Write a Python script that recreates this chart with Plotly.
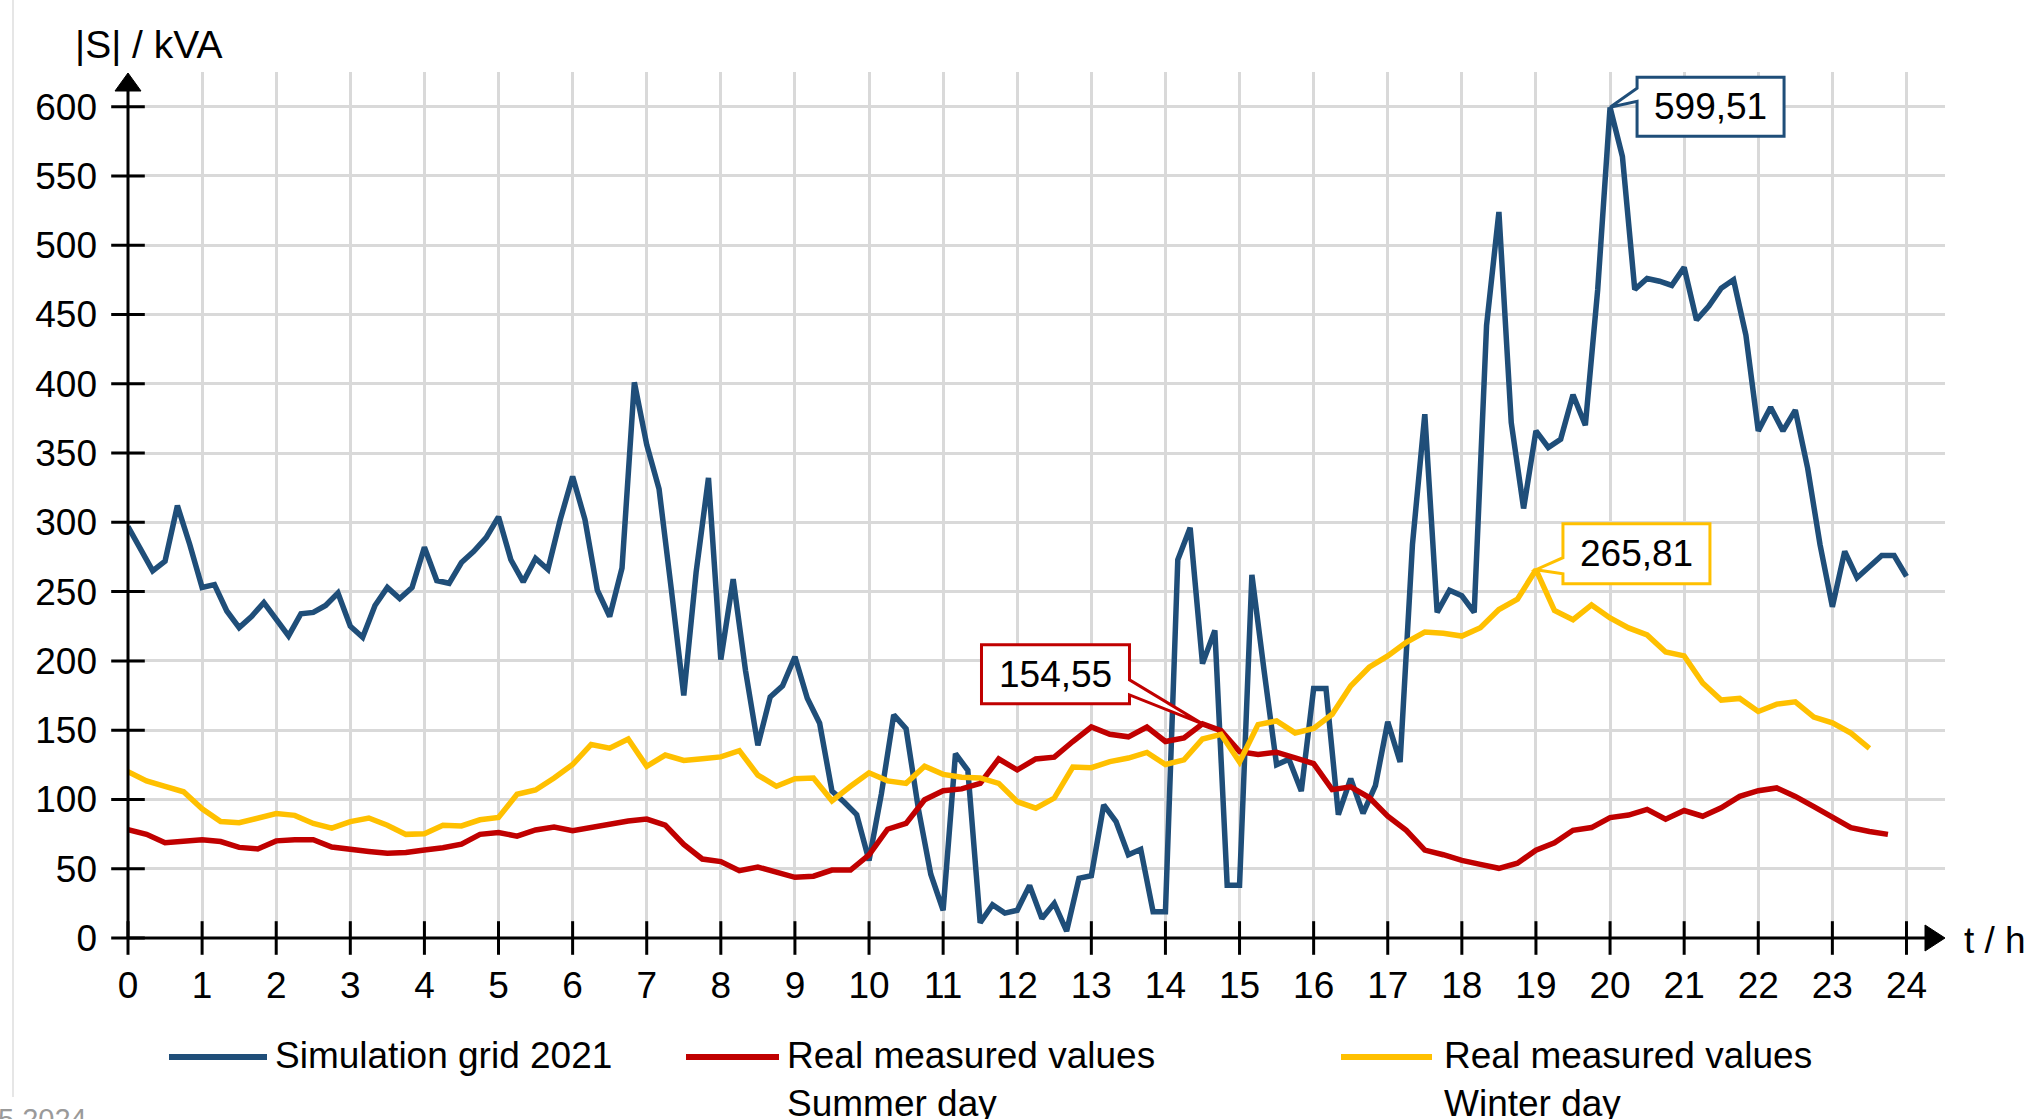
import plotly.graph_objects as go

# ---------------------------------------------------------------------------
# Apparent power |S| in kVA
# ---------------------------------------------------------------------------
# Simulation grid 2021, 10-minute resolution, 0:00 ... 24:00
sim_values = [
    297, 281, 265, 272, 312, 284,
    253, 255, 236, 224, 232, 242,
    230, 218, 234, 235, 240, 249,
    225, 217, 240, 253, 245, 253,
    282, 258, 256, 271, 279, 289,
    304, 273, 257, 274, 266, 302,
    333, 302, 251, 232, 267, 401,
    356, 324, 251, 175, 264, 332,
    201, 259, 193, 139, 174, 182,
    203, 173, 155, 106, 98, 89,
    56, 104, 161, 151, 93, 46,
    20, 133, 121, 11, 24, 18,
    20, 38, 14, 25, 5, 43,
    45, 96, 84, 60, 64, 19,
    19, 273, 296, 198, 222, 38,
    38, 262, 192, 125, 129, 106,
    180, 180, 89, 115, 90, 110,
    156, 127, 284, 378, 235, 251,
    247, 235, 442, 524, 372, 310,
    366, 354, 360, 392, 370, 468,
    599.51, 564, 468, 476, 474, 471,
    484, 446, 456, 469, 475, 435,
    366, 383, 366, 381, 339, 284,
    239, 279, 260, 268, 276, 276,
    261,
]

# Real measured values, summer day, 15-minute resolution, 0:00 ... 23:45
summer_values = [
    78.2, 74.8, 68.8, 69.6,
    70.9, 69.6, 65.4, 64.3,
    70.1, 70.9, 70.9, 65.6,
    63.8, 62.5, 61.2, 61.7,
    63.5, 65.1, 67.7, 74.8,
    76.1, 73.5, 78.0, 80.0,
    77.4, 80.0, 82.2, 84.5,
    85.8, 81.4, 67.5, 57.0,
    55.1, 48.6, 51.2, 47.3,
    43.8, 44.6, 49.0, 49.0,
    60.0, 78.5, 82.7, 99.8,
    106.3, 107.6, 111.6, 129.2,
    121.3, 129.2, 130.5, 141.8,
    152.3, 147.0, 145.2, 152.3,
    141.8, 144.4, 154.55, 149.6,
    134.5, 132.5, 134.1, 130.0,
    125.9, 107.1, 109.1, 101.4,
    87.9, 77.7, 63.4, 60.1,
    56.0, 53.1, 50.3, 54.0,
    63.4, 68.7, 77.7, 79.7,
    86.9, 88.7, 92.8, 85.8,
    92.0, 87.9, 94.0, 102.2,
    106.3, 108.3, 102.2, 94.8,
    86.7, 79.7, 76.9, 74.8,
]

# Real measured values, winter day, 15-minute resolution, 0:00 ... 23:30
winter_values = [
    120.0, 113.4, 109.5, 105.5,
    93.2, 84.0, 83.2, 86.0,
    89.8, 88.5, 82.7, 79.3,
    84.0, 86.6, 81.4, 74.8,
    75.3, 81.4, 80.9, 85.3,
    87.0, 103.7, 106.8, 115.5,
    125.2, 139.7, 137.0, 143.6,
    123.9, 132.0, 128.1, 129.4,
    130.7, 135.2, 117.6, 109.5,
    115.0, 115.5, 99.0, 109.5,
    119.2, 113.4, 111.6, 123.9,
    118.1, 116.0, 115.5, 111.6,
    98.4, 93.7, 101.0, 123.4,
    122.9, 127.3, 129.9, 133.9,
    125.2, 128.6, 143.6, 147.0,
    127.0, 154.0, 156.6, 148.0,
    151.3, 161.5, 181.9, 195.4,
    203.6, 213.4, 220.8, 219.9,
    217.9, 224.0, 237.1, 244.5,
    265.81, 236.3, 229.7, 240.4,
    231.0, 223.8, 218.7, 206.4,
    203.6, 184.0, 171.7, 172.9,
    163.5, 168.8, 170.4, 159.4,
    155.3, 147.9, 136.9,
]

series_names = ["Simulation grid 2021",
                "Real measured values<br>Summer day",
                "Real measured values<br>Winter day"]
hour_ticks = list(range(0, 25))
kva_ticks = list(range(0, 601, 50))

# time stamps in hours
sim_t = [i / 6 for i in range(len(sim_values))]
summer_t = [i / 4 for i in range(len(summer_values))]
winter_t = [i / 4 for i in range(len(winter_values))]

# ---------------------------------------------------------------------------
# Styling
# ---------------------------------------------------------------------------
BLUE = "#1f4e79"
RED = "#c00000"
YELLOW = "#ffc000"
GRID = "#d9d9d9"
FONT = "Liberation Sans, Arial, sans-serif"
FS = 37
LW = 5.5

W, H = 2041, 1119
ML, MR, MT, MB = 128, 96, 72, 181
PW, PH = W - ML - MR, H - MT - MB
X_END = 24.52
Y_END = 625


def px_x(px):
    """page pixel -> paper x"""
    return (px - ML) / PW


def px_y(py):
    """page pixel -> paper y"""
    return (H - MB - py) / PH


fig = go.Figure()

fig.add_trace(go.Scatter(x=sim_t, y=sim_values, mode="lines",
                         line=dict(color=BLUE, width=LW), name=series_names[0],
                         showlegend=False))
fig.add_trace(go.Scatter(x=summer_t, y=summer_values, mode="lines",
                         line=dict(color=RED, width=LW), name=series_names[1],
                         showlegend=False))
fig.add_trace(go.Scatter(x=winter_t, y=winter_values, mode="lines",
                         line=dict(color=YELLOW, width=LW), name=series_names[2],
                         showlegend=False))

# tick marks crossing the axes
fig.add_trace(go.Scatter(x=[0] * len(kva_ticks), y=kva_ticks, mode="markers",
                         marker=dict(symbol="line-ew", size=24,
                                     line=dict(color="black", width=3)),
                         cliponaxis=False, hoverinfo="skip", showlegend=False))
fig.add_trace(go.Scatter(x=hour_ticks, y=[0] * len(hour_ticks), mode="markers",
                         marker=dict(symbol="line-ns", size=24,
                                     line=dict(color="black", width=3)),
                         cliponaxis=False, hoverinfo="skip", showlegend=False))

shapes = []
annotations = []

# axis lines with arrow heads (paper-referenced so they are not clipped)
shapes.append(dict(type="line", xref="paper", yref="paper", x0=0, y0=0, x1=0, y1=0.985,
                   line=dict(color="black", width=3), layer="above"))
shapes.append(dict(type="line", xref="paper", yref="paper", x0=0, y0=0, x1=0.992, y1=0,
                   line=dict(color="black", width=3), layer="above"))
shapes.append(dict(type="path", xref="paper", yref="paper", xsizemode="pixel",
                   ysizemode="pixel", xanchor=0, yanchor=1,
                   path="M0,-1 L-13,-19 L13,-19 Z",
                   fillcolor="black", line=dict(color="black", width=1), layer="above"))
shapes.append(dict(type="path", xref="paper", yref="paper", xsizemode="pixel",
                   ysizemode="pixel", xanchor=1, yanchor=0,
                   path="M0,0 L-20,13 L-20,-13 Z",
                   fillcolor="black", line=dict(color="black", width=1), layer="above"))


def fmt(v):
    return f"{v:.2f}".replace(".", ",")


def callout(t, v, color, left, right, top, bottom, wedge_a, wedge_b, side):
    """Boxed value label with a wedge pointing at (t, v); offsets in pixels."""
    if side == "right":
        path = (f"M0,0 L{left},{wedge_b} L{left},{bottom} L{right},{bottom} "
                f"L{right},{top} L{left},{top} L{left},{wedge_a} Z")
    else:
        path = (f"M0,0 L{right},{wedge_b} L{right},{bottom} L{left},{bottom} "
                f"L{left},{top} L{right},{top} L{right},{wedge_a} Z")
    shapes.append(dict(type="path", xref="x", yref="y", xsizemode="pixel",
                       ysizemode="pixel", xanchor=t, yanchor=v, path=path,
                       fillcolor="white", line=dict(color=color, width=3),
                       layer="above"))
    annotations.append(dict(x=t, y=v, xref="x", yref="y", text=fmt(v),
                            showarrow=False, xanchor="center", yanchor="middle",
                            xshift=(left + right) / 2, yshift=(top + bottom) / 2,
                            font=dict(family=FONT, size=FS, color="black")))


i_sim = max(range(len(sim_values)), key=lambda i: sim_values[i])
i_sum = max(range(len(summer_values)), key=lambda i: summer_values[i])
i_win = max(range(len(winter_values)), key=lambda i: winter_values[i])

callout(sim_t[i_sim], sim_values[i_sim], BLUE, 27, 174, 30, -29, 19, 6, "right")
callout(winter_t[i_win], winter_values[i_win], YELLOW, 27, 174, 46, -14, 12, -4, "right")
callout(summer_t[i_sum], summer_values[i_sum], RED, -221, -73, 79, 20, 44, 29, "left")

# axis titles
annotations.append(dict(x=px_x(73), y=px_y(21), xref="paper", yref="paper",
                        text="|S| / kVA", showarrow=False, xanchor="left",
                        yanchor="top", font=dict(family=FONT, size=39, color="black")))
annotations.append(dict(x=px_x(1962), y=px_y(918), xref="paper", yref="paper",
                        text="t / h", showarrow=False, xanchor="left",
                        yanchor="top", font=dict(family=FONT, size=FS, color="black")))

# legend
legend_items = [(series_names[0], BLUE, 169, 267, 273),
                (series_names[1], RED, 686, 779, 785),
                (series_names[2], YELLOW, 1341, 1432, 1442)]
for name, color, x0, x1, xt in legend_items:
    shapes.append(dict(type="line", xref="paper", yref="paper",
                       x0=px_x(x0), x1=px_x(x1), y0=px_y(1057), y1=px_y(1057),
                       line=dict(color=color, width=6)))
    annotations.append(dict(x=px_x(xt), y=px_y(1033), xref="paper", yref="paper",
                            text=name, showarrow=False, xanchor="left", yanchor="top",
                            align="left",
                            font=dict(family=FONT, size=FS, color="black")))

# page border line and footer
shapes.append(dict(type="line", xref="paper", yref="paper",
                   x0=px_x(13), x1=px_x(13), y0=px_y(0), y1=px_y(1097),
                   line=dict(color="#e6e6e6", width=2)))
annotations.append(dict(x=px_x(-4), y=px_y(1101), xref="paper", yref="paper",
                        text="5 2024", showarrow=False, xanchor="left", yanchor="top",
                        font=dict(family=FONT, size=29, color="#9a9a9a")))

fig.update_layout(
    width=W, height=H,
    margin=dict(l=ML, r=MR, t=MT, b=MB, pad=0),
    paper_bgcolor="white", plot_bgcolor="white",
    font=dict(family=FONT, size=FS, color="black"),
    shapes=shapes, annotations=annotations,
    showlegend=False,
)
fig.update_xaxes(range=[0, X_END], tickvals=hour_ticks,
                 ticktext=[str(h) for h in hour_ticks],
                 showgrid=True, gridcolor=GRID, gridwidth=3, zeroline=False,
                 showline=False, ticks="", ticklabelstandoff=22,
                 tickfont=dict(family=FONT, size=FS, color="black"))
fig.update_yaxes(range=[0, Y_END], tickvals=kva_ticks,
                 ticktext=[str(v) for v in kva_ticks],
                 showgrid=True, gridcolor=GRID, gridwidth=3, zeroline=False,
                 showline=False, ticks="", ticklabelstandoff=30,
                 tickfont=dict(family=FONT, size=FS, color="black"))

fig.write_html("out.html")
